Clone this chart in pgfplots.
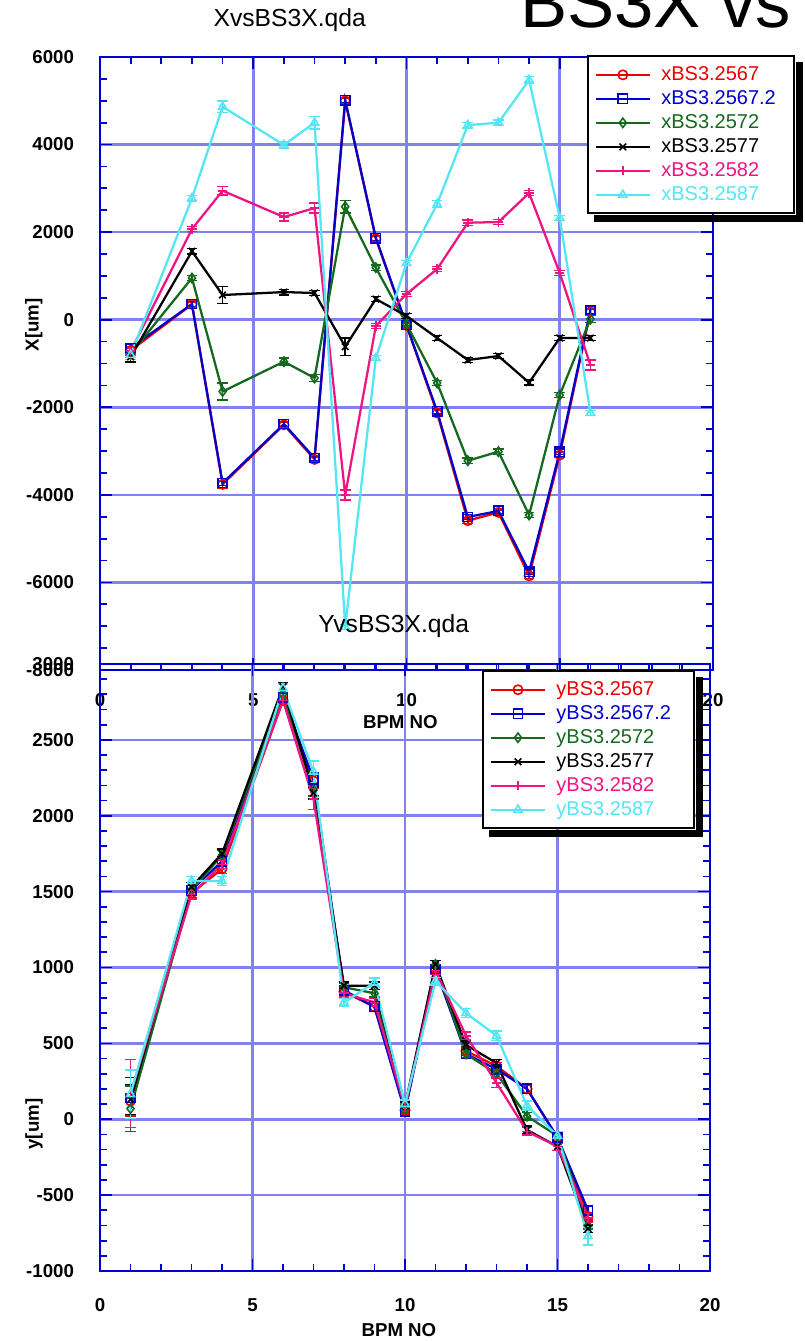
\documentclass[border=0pt]{standalone}
\usepackage{pgfplots}
\usepackage{pgfplotstable}
\pgfplotsset{compat=1.18}
\usepackage{fontspec}
\setmainfont{Liberation Sans}
\definecolor{cr}{RGB}{235,0,0}
\definecolor{cb}{RGB}{0,0,205}
\definecolor{cg}{RGB}{20,105,30}
\definecolor{ck}{RGB}{0,0,0}
\definecolor{cm}{RGB}{240,20,130}
\definecolor{cc}{RGB}{85,230,245}
\definecolor{framec}{RGB}{0,0,205}
\definecolor{gridc}{RGB}{130,130,235}

\pgfplotstableread{
x  r     er  b     eb  g     eg  k     ek  m     em  c     ec
1  -700  80  -646  80  -780  80  -850  120 -720  80  -806  100
3  350   60  358   60  952   60  1563  60  2070  60  2775  60
4  -3760 80  -3730 60  -1640 190 564   190 2946  100 4864  130
6  -2400 60  -2382 60  -958  80  631   60  2345  90  3990  80
7  -3190 60  -3158 60  -1332 80  610   60  2550  110 4500  140
8  5000  60  5017  60  2580  140 -616  200 -4003 110 -7018 60
9  1850  60  1865  60  1188  60  472   60  -144  60  -875  60
10 -130  60  -121  60  -100  60  85    60  587   60  1294  60
11 -2130 60  -2093 60  -1446 60  -418  60  1157  60  2642  80
12 -4590 60  -4506 60  -3220 60  -920  60  2215  60  4444  60
13 -4400 60  -4368 60  -3014 60  -830  60  2230  60  4500  60
14 -5850 60  -5755 60  -4460 60  -1438 60  2893  60  5474  80
15 -3090 60  -3014 60  -1720 60  -418  60  1066  60  2322  60
16 180   60  221   90  16    80  -418  60  -1034 120 -2130 60
}\topdata

\pgfplotstableread{
x  r     er  b     eb  g     eg  k     ek  m     em  c     ec
1  120   100 140   135 70    150 130   100 170   225 165   160
3  1490  30  1510  30  1510  30  1530  30  1480  30  1570  30
4  1650  30  1700  30  1740  30  1750  30  1680  30  1570  30
6  2760  25  2780  25  2800  25  2850  25  2760  25  2840  30
7  2230  40  2240  40  2170  40  2150  40  2110  70  2290  70
8  840   25  850   25  870   25  880   25  830   25  770   25
9  740   25  740   25  830   25  880   25  770   25  900   30
10 60    25  50    25  70    25  90    25  80    25  100   25
11 990   25  990   25  1020  25  1020  25  980   25  910   25
12 450   25  430   25  430   25  490   25  550   25  700   30
13 350   25  330   25  300   25  370   25  240   30  550   30
14 200   25  200   25  20    25  -70   25  -80   25  90    30
15 -120  25  -120  25  -110  25  -180  25  -180  25  -110  25
16 -640  25  -600  25  -700  25  -720  25  -650  30  -770  60
}\botdata

\pgfplotsset{
  myax/.style={
    scale only axis,
    xmin=0,xmax=20,
    xtick={0,5,10,15,20},
    minor x tick num=4,
    grid=major,
    major grid style={line width=2pt, gridc},
    axis line style={framec, line width=2.2pt},
    tick style={framec, line width=1.3pt},
    major tick length=9pt,
    minor tick length=5pt,
    tick align=inside,
    tick pos=both,
    tick label style={font=\fontsize{14}{16}\selectfont\bfseries},
    /pgf/number format/assume math mode=true,
    /pgf/number format/1000 sep={},
    scaled ticks=false,
    label style={font=\fontsize{14}{16}\selectfont\bfseries},
    legend cell align=left,
    legend image code/.code={\draw[mark repeat=2,mark phase=2] plot coordinates {(0pt,0pt)(20.5pt,0pt)(41pt,0pt)};},
    legend style={draw=black, line width=1.5pt, fill=white, anchor=north west,
      font=\fontsize{15}{17}\selectfont,
      inner xsep=5pt, inner ysep=5pt, row sep=0pt,
      nodes={inner sep=1.5pt, minimum height=18pt},
      /tikz/every odd column/.append style={column sep=6pt}},
    every axis plot/.append style={line width=1.7pt, mark size=3.5pt, mark options={solid, line width=1.2pt}},
    error bars/y dir=both,
    error bars/y explicit,
    error bars/error bar style={line width=1.2pt},
    error bars/error mark options={rotate=90, mark size=4pt, line width=1.2pt},
  }
}

\begin{document}
\begin{tikzpicture}
\path[use as bounding box] (0,0) rectangle (603.75pt,1005.75pt);

\begin{axis}[myax, at={(75pt,503.25pt)}, anchor=south west,
  width=459.75pt, height=459.75pt,
  ymin=-8000, ymax=6000, ytick={-8000,-6000,...,6000}, minor y tick num=3,
  xticklabels={0,5,10,,20},
  xticklabel style={yshift=-14pt},
  yticklabel style={xshift=-16pt},
  xlabel={BPM NO}, ylabel={X[um]},
  xlabel style={at={(axis description cs:0.49,0)}, anchor=center, yshift=-39pt},
  ylabel style={at={(axis description cs:-0.108,0.563)}, anchor=center},
  legend style={name=legA, at={(axis description cs:0.794,1.003)}}]
\addplot[color=cr, mark=o] table[x=x,y=r,y error=er] {\topdata};
\addlegendentry[text=cr, text width=93pt]{xBS3.2567}
\addplot[color=cb, mark=square] table[x=x,y=b,y error=eb] {\topdata};
\addlegendentry[text=cb, text width=93pt]{xBS3.2567.2}
\addplot[color=cg, mark=diamond] table[x=x,y=g,y error=eg] {\topdata};
\addlegendentry[text=cg, text width=93pt]{xBS3.2572}
\addplot[color=ck, mark=x] table[x=x,y=k,y error=ek] {\topdata};
\addlegendentry[text=ck, text width=93pt]{xBS3.2577}
\addplot[color=cm, mark=+] table[x=x,y=m,y error=em] {\topdata};
\addlegendentry[text=cm, text width=93pt]{xBS3.2582}
\addplot[color=cc, mark=triangle] table[x=x,y=c,y error=ec] {\topdata};
\addlegendentry[text=cc, text width=93pt]{xBS3.2587}
\end{axis}
\fill[black] ([xshift=0.75pt,yshift=-5.5pt]legA.north east) rectangle ([xshift=6pt,yshift=-6pt]legA.south east);
\fill[black] ([xshift=5.5pt,yshift=-0.75pt]legA.south west) rectangle ([xshift=6pt,yshift=-6pt]legA.south east);

\begin{axis}[myax, at={(75pt,52.5pt)}, anchor=south west,
  width=457.5pt, height=455.25pt,
  ymin=-1000, ymax=3000, ytick={-1000,-500,...,3000}, minor y tick num=4,
  xticklabel style={yshift=-17pt},
  yticklabel style={xshift=-16pt},
  xlabel={BPM NO}, ylabel={y[um]},
  xlabel style={at={(axis description cs:0.49,0)}, anchor=center, yshift=-44pt},
  ylabel style={at={(axis description cs:-0.108,0.242)}, anchor=center},
  legend style={name=legB, at={(axis description cs:0.626,0.990)}}]
\addplot[color=cr, mark=o] table[x=x,y=r,y error=er] {\botdata};
\addlegendentry[text=cr, text width=97pt]{yBS3.2567}
\addplot[color=cb, mark=square] table[x=x,y=b,y error=eb] {\botdata};
\addlegendentry[text=cb, text width=97pt]{yBS3.2567.2}
\addplot[color=cg, mark=diamond] table[x=x,y=g,y error=eg] {\botdata};
\addlegendentry[text=cg, text width=97pt]{yBS3.2572}
\addplot[color=ck, mark=x] table[x=x,y=k,y error=ek] {\botdata};
\addlegendentry[text=ck, text width=97pt]{yBS3.2577}
\addplot[color=cm, mark=+] table[x=x,y=m,y error=em] {\botdata};
\addlegendentry[text=cm, text width=97pt]{yBS3.2582}
\addplot[color=cc, mark=triangle] table[x=x,y=c,y error=ec] {\botdata};
\addlegendentry[text=cc, text width=97pt]{yBS3.2587}
\end{axis}
\fill[black] ([xshift=0.75pt,yshift=-5.5pt]legB.north east) rectangle ([xshift=6pt,yshift=-6pt]legB.south east);
\fill[black] ([xshift=5.5pt,yshift=-0.75pt]legB.south west) rectangle ([xshift=6pt,yshift=-6pt]legB.south east);

\node[anchor=base west, inner sep=0pt, font=\fontsize{18.5}{20}\selectfont] at (160pt,985.5pt) {XvsBS3X.qda};
\node[anchor=base west, inner sep=0pt, font=\fontsize{18.5}{20}\selectfont] at (238.5pt,531pt) {YvsBS3X.qda};
\node[anchor=base west, inner sep=0pt, font=\fontsize{53}{60}\selectfont] at (390pt,984.75pt) {BS3X vs};
\end{tikzpicture}
\end{document}
